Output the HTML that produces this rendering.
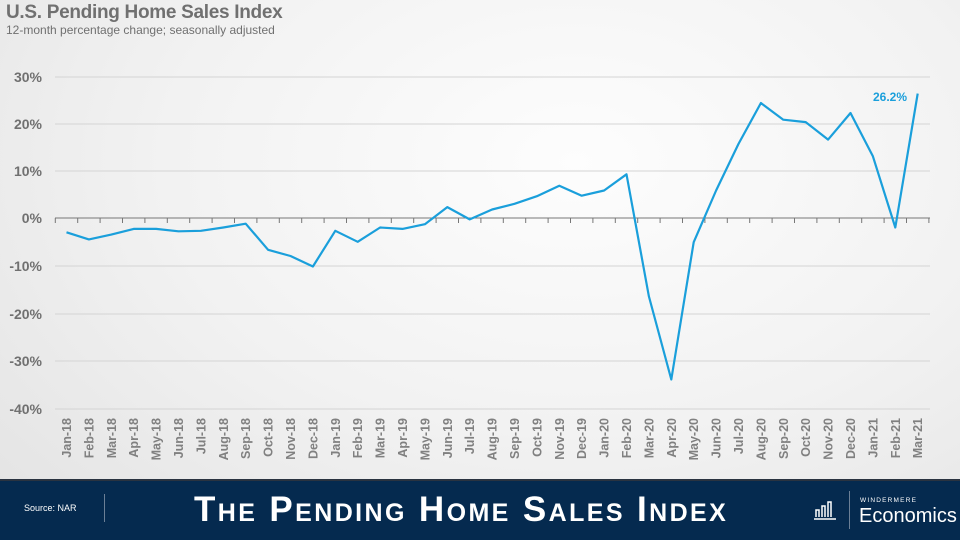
<!DOCTYPE html>
<html><head><meta charset="utf-8"><style>
body{margin:0}
#c{width:960px;height:540px;position:relative;overflow:hidden;background:radial-gradient(ellipse at 60% 30%,#fdfdfd 0%,#f2f2f2 50%,#e2e2e2 100%);font-family:"Liberation Sans",sans-serif}
</style></head><body><div id="c">
<div style="position:absolute;left:6px;top:2px;font-size:19px;font-weight:bold;color:#707070;letter-spacing:-0.3px">U.S. Pending Home Sales Index</div>
<div style="position:absolute;left:6px;top:23px;font-size:12px;color:#707070">12-month percentage change; seasonally adjusted</div>
<svg width="960" height="480" style="position:absolute;left:0;top:0" font-family="Liberation Sans, sans-serif">
<g stroke="#d4d4d4" stroke-width="1">
<line x1="55" x2="930" y1="77" y2="77"/><line x1="55" x2="930" y1="124" y2="124"/><line x1="55" x2="930" y1="171" y2="171"/><line x1="55" x2="930" y1="266" y2="266"/><line x1="55" x2="930" y1="314" y2="314"/><line x1="55" x2="930" y1="361" y2="361"/><line x1="55" x2="930" y1="409" y2="409"/>
</g>
<line x1="55" x2="930" y1="218" y2="218" stroke="#777" stroke-width="1"/>
<g stroke="#777" stroke-width="1">
<path d="M55.3 218v5M77.7 218v5M100.1 218v5M122.5 218v5M144.9 218v5M167.3 218v5M189.7 218v5M212.1 218v5M234.5 218v5M256.9 218v5M279.3 218v5M301.7 218v5M324.1 218v5M346.5 218v5M368.9 218v5M391.3 218v5M413.7 218v5M436.1 218v5M458.5 218v5M480.9 218v5M503.3 218v5M525.7 218v5M548.1 218v5M570.5 218v5M592.9 218v5M615.3 218v5M637.7 218v5M660.1 218v5M682.5 218v5M704.9 218v5M727.3 218v5M749.7 218v5M772.1 218v5M794.5 218v5M816.9 218v5M839.3 218v5M861.7 218v5M884.1 218v5M906.5 218v5M928.9 218v5"/>
</g>
<g font-size="14" font-weight="bold" fill="#707070" text-anchor="end">
<text x="42" y="82">30%</text><text x="42" y="129">20%</text><text x="42" y="176">10%</text><text x="42" y="223">0%</text><text x="42" y="271">-10%</text><text x="42" y="319">-20%</text><text x="42" y="366">-30%</text><text x="42" y="414">-40%</text>
</g>
<polyline fill="none" stroke="#1a9fdb" stroke-width="2.2" stroke-linejoin="round" points="66.5,232.3 88.9,239.4 111.3,234.6 133.7,228.9 156.1,228.9 178.5,231.3 200.9,230.8 223.3,227.5 245.7,223.7 268.1,249.8 290.5,256 312.9,266.5 335.3,230.8 357.7,241.8 380.1,227.5 402.5,228.9 424.9,224.2 447.3,207.1 469.7,219.4 492.1,209.5 514.5,203.8 536.9,196.2 559.3,185.7 581.7,195.7 604.1,190.5 626.5,174.3 648.9,296.4 671.3,379.5 693.7,242.2 716.1,190.5 738.5,143.9 760.9,103 783.3,119.7 805.7,122.1 828.1,139.6 850.5,113 872.9,156.3 895.3,227.5 917.7,93.6"/>
<text x="907" y="101" font-size="12" font-weight="bold" fill="#1a9fdb" text-anchor="end">26.2%</text>
<g font-size="12.5" font-weight="bold" fill="#808080" text-anchor="end">
<text transform="translate(71,418) rotate(-90)">Jan-18</text>
<text transform="translate(93.4,418) rotate(-90)">Feb-18</text>
<text transform="translate(115.8,418) rotate(-90)">Mar-18</text>
<text transform="translate(138.2,418) rotate(-90)">Apr-18</text>
<text transform="translate(160.6,418) rotate(-90)">May-18</text>
<text transform="translate(183,418) rotate(-90)">Jun-18</text>
<text transform="translate(205.4,418) rotate(-90)">Jul-18</text>
<text transform="translate(227.8,418) rotate(-90)">Aug-18</text>
<text transform="translate(250.2,418) rotate(-90)">Sep-18</text>
<text transform="translate(272.6,418) rotate(-90)">Oct-18</text>
<text transform="translate(295,418) rotate(-90)">Nov-18</text>
<text transform="translate(317.4,418) rotate(-90)">Dec-18</text>
<text transform="translate(339.8,418) rotate(-90)">Jan-19</text>
<text transform="translate(362.2,418) rotate(-90)">Feb-19</text>
<text transform="translate(384.6,418) rotate(-90)">Mar-19</text>
<text transform="translate(407,418) rotate(-90)">Apr-19</text>
<text transform="translate(429.4,418) rotate(-90)">May-19</text>
<text transform="translate(451.8,418) rotate(-90)">Jun-19</text>
<text transform="translate(474.2,418) rotate(-90)">Jul-19</text>
<text transform="translate(496.6,418) rotate(-90)">Aug-19</text>
<text transform="translate(519,418) rotate(-90)">Sep-19</text>
<text transform="translate(541.4,418) rotate(-90)">Oct-19</text>
<text transform="translate(563.8,418) rotate(-90)">Nov-19</text>
<text transform="translate(586.2,418) rotate(-90)">Dec-19</text>
<text transform="translate(608.6,418) rotate(-90)">Jan-20</text>
<text transform="translate(631,418) rotate(-90)">Feb-20</text>
<text transform="translate(653.4,418) rotate(-90)">Mar-20</text>
<text transform="translate(675.8,418) rotate(-90)">Apr-20</text>
<text transform="translate(698.2,418) rotate(-90)">May-20</text>
<text transform="translate(720.6,418) rotate(-90)">Jun-20</text>
<text transform="translate(743,418) rotate(-90)">Jul-20</text>
<text transform="translate(765.4,418) rotate(-90)">Aug-20</text>
<text transform="translate(787.8,418) rotate(-90)">Sep-20</text>
<text transform="translate(810.2,418) rotate(-90)">Oct-20</text>
<text transform="translate(832.6,418) rotate(-90)">Nov-20</text>
<text transform="translate(855,418) rotate(-90)">Dec-20</text>
<text transform="translate(877.4,418) rotate(-90)">Jan-21</text>
<text transform="translate(899.8,418) rotate(-90)">Feb-21</text>
<text transform="translate(922.2,418) rotate(-90)">Mar-21</text>
</g>
</svg>
<div style="position:absolute;left:0;top:479px;width:960px;height:61px;background:#052a4f;border-top:2px solid #2a3340"></div>
<div style="position:absolute;left:24px;top:503px;font-size:9px;color:#fff">Source: NAR</div>
<div style="position:absolute;left:104px;top:494px;width:1px;height:28px;background:#6b7f96"></div>
<div style="position:absolute;left:194px;top:490px;font-size:35px;font-weight:bold;color:#fff;font-variant:small-caps;letter-spacing:2.4px;line-height:40px;white-space:nowrap">The Pending Home Sales Index</div>
<svg width="30" height="24" style="position:absolute;left:812px;top:497px"><g fill="none" stroke="#fff" stroke-width="1.5"><path d="M2 22h22M4 20v-7h3v7M10 20v-11h3v11M16 20v-15h3v15"/></g></svg>
<div style="position:absolute;left:849px;top:491px;width:1px;height:38px;background:#6b7f96"></div>
<div style="position:absolute;left:860px;top:497px;font-size:6.5px;color:#fff;letter-spacing:1.2px">WINDERMERE</div>
<div style="position:absolute;left:859px;top:505px;font-size:20px;color:#fff">Economics</div>
</div></body></html>
